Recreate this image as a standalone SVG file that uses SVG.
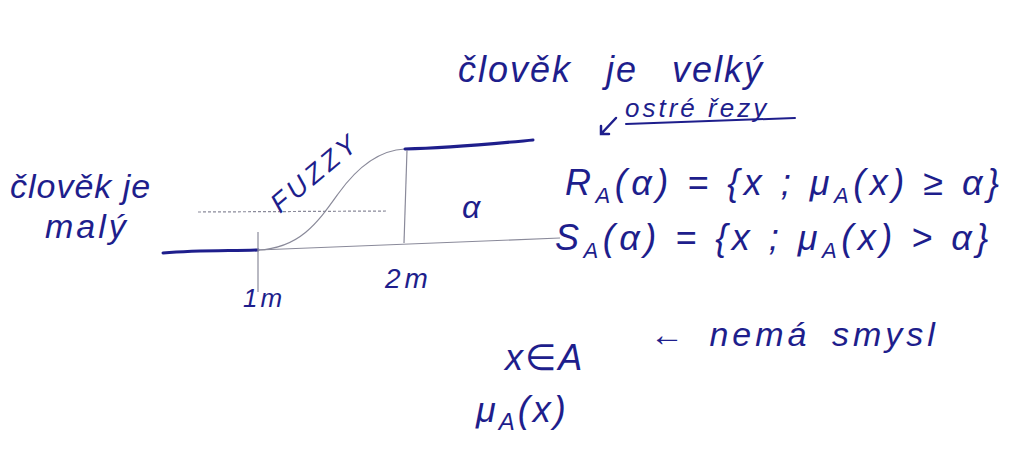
<svg xmlns="http://www.w3.org/2000/svg" width="1033" height="450" viewBox="0 0 1033 450">
<style>
.t{font-family:"Liberation Sans","DejaVu Sans",sans-serif;fill:#1e1e8c;font-style:italic}
.ink{stroke:#1e1e8c;fill:none;stroke-linecap:round}
.thin{stroke:#8a8a9a;fill:none;stroke-width:1.2}
</style>
<rect width="1033" height="450" fill="#fff"/>
<g id="graph">
<path class="ink" stroke-width="3" d="M163,253 C200,250 230,251 258,250"/>
<path class="thin" d="M258,250 C300,248 318,222 338,194 S380,150 405,149"/>
<path class="ink" stroke-width="3" d="M405,149 C450,148 490,144 533,140"/>
<path class="thin" stroke-dasharray="3 2" d="M198,212 L388,211"/>
<path class="thin" d="M258,250 L560,238"/>
<path class="thin" d="M258,232 L258,292"/>
<path class="thin" d="M407,150 L404,243"/>
<text class="t" x="0" y="0" font-size="27" letter-spacing="4" transform="translate(280,214) rotate(-40)">FUZZY</text>
<text class="t" x="385" y="288" font-size="28" letter-spacing="4">2m</text>
<text class="t" x="243" y="307" font-size="26" letter-spacing="3">1m</text>
<text class="t" x="462" y="218" font-size="32">α</text>
</g>
<g id="small">
<text class="t" x="10" y="198" font-size="34" letter-spacing="1">člověk je</text>
<text class="t" x="45" y="238" font-size="34" letter-spacing="3">malý</text>
</g>
<g id="large">
<text class="t" x="458" y="82" font-size="36" letter-spacing="2" word-spacing="22">člověk je velký</text>
</g>
<g id="cuts">
<text class="t" x="625" y="117" font-size="26" letter-spacing="3">ostré řezy</text>
<path class="ink" stroke-width="2" d="M626,124 L795,118"/>
<path class="ink" stroke-width="2.5" d="M616,118 L601,134 M601,126 L601,134 L609,134"/>
</g>
<g id="eq">
<text class="t" x="565" y="195" font-size="36" letter-spacing="4.5">R<tspan font-size="22" dy="8">A</tspan><tspan dy="-8">(α) = {x ; μ</tspan><tspan font-size="22" dy="8">A</tspan><tspan dy="-8">(x) ≥ α}</tspan></text>
<text class="t" x="555" y="250" font-size="36" letter-spacing="4.5">S<tspan font-size="22" dy="8">A</tspan><tspan dy="-8">(α) = {x ; μ</tspan><tspan font-size="22" dy="8">A</tspan><tspan dy="-8">(x) &gt; α}</tspan></text>
</g>
<g id="bottom">
<text class="t" x="505" y="370" font-size="36" letter-spacing="2">x∈A</text>
<text class="t" x="476" y="422" font-size="36" letter-spacing="3">μ<tspan font-size="24" dy="8">A</tspan><tspan dy="-8">(x)</tspan></text>
<text class="t" x="650" y="346" font-size="34" letter-spacing="4" word-spacing="8">← nemá smysl</text>
</g>
</svg>
